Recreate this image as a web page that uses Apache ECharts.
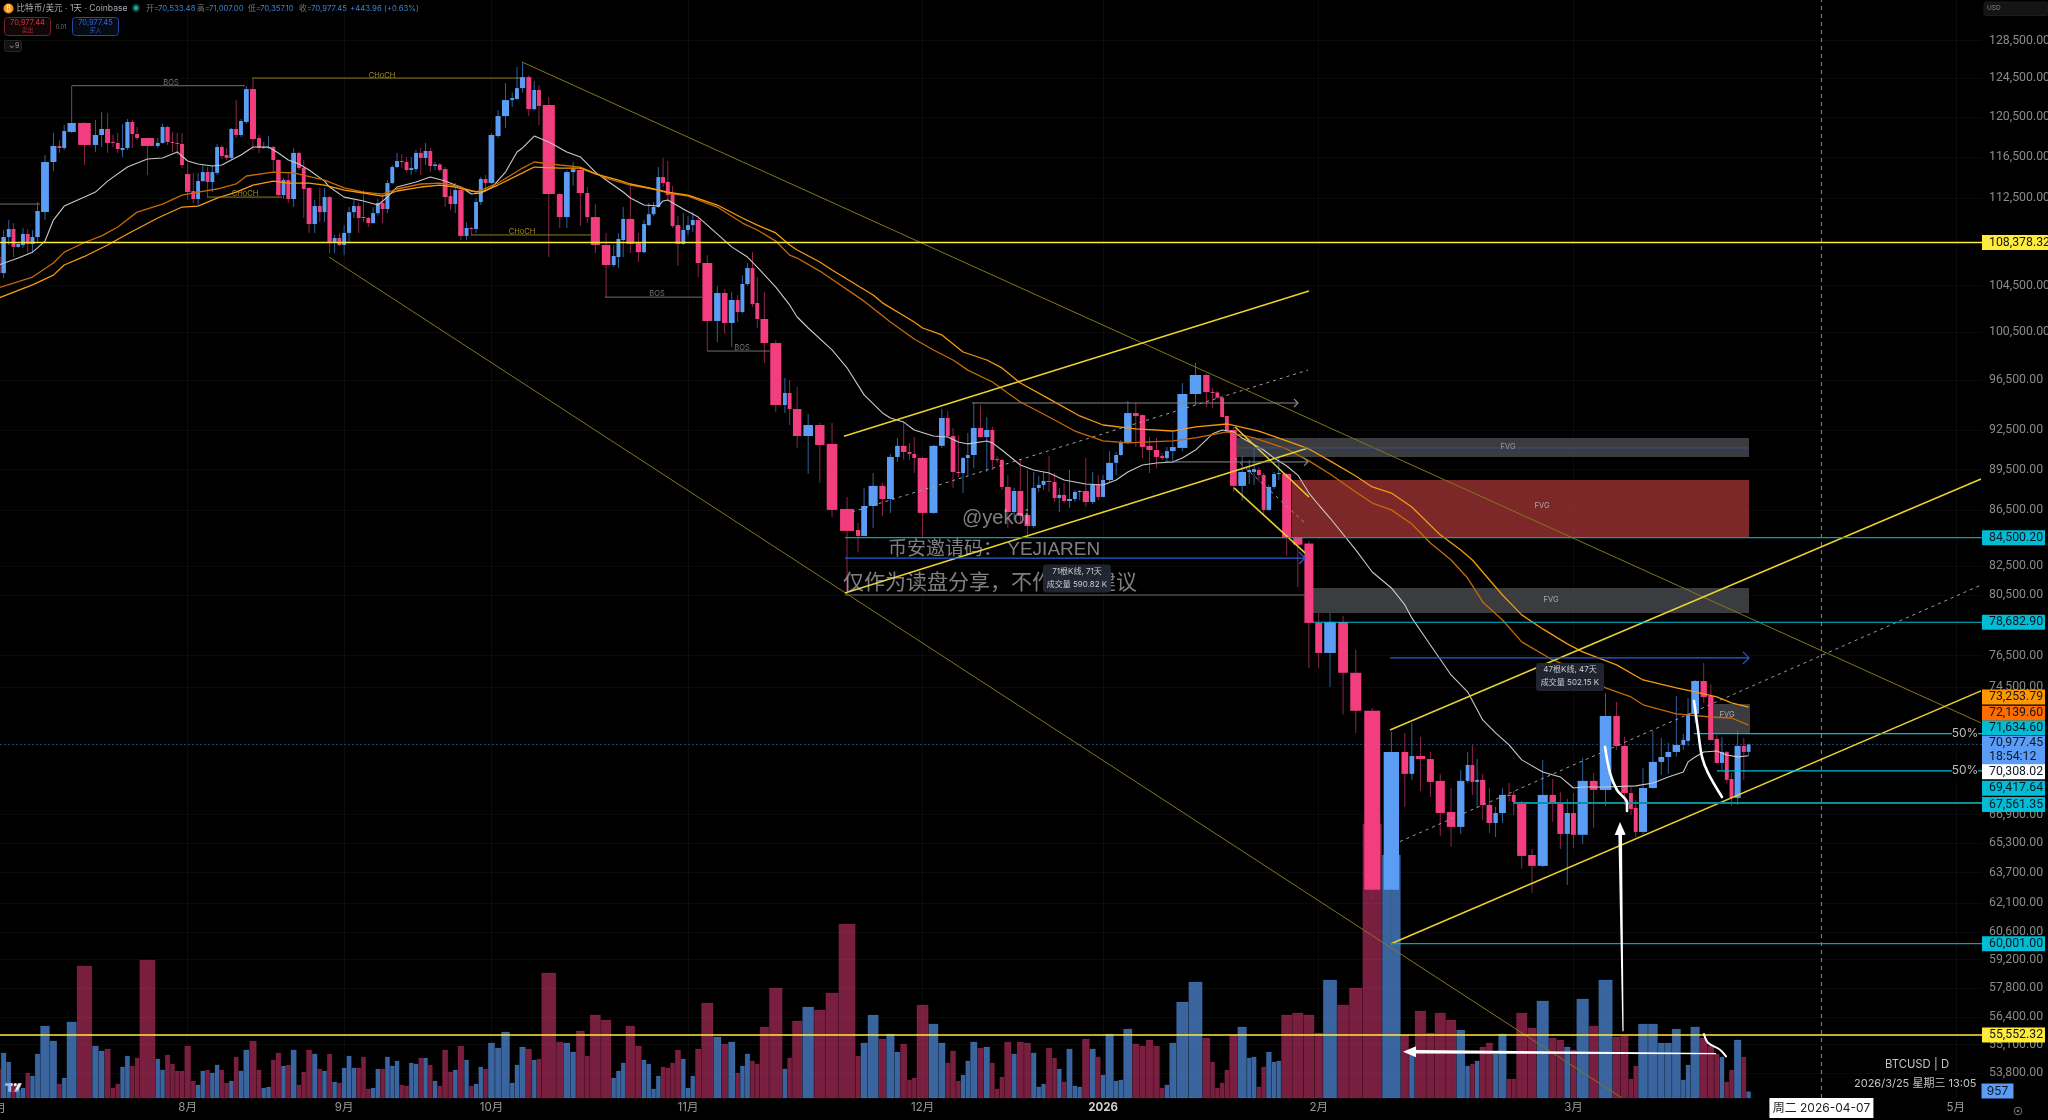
<!DOCTYPE html>
<html>
<head>
<meta charset="utf-8">
<title>BTCUSD</title>
<style>html,body{margin:0;padding:0;background:#000}#chart{width:2048px;height:1120px}</style>
<script src="https://cdn.jsdelivr.net/npm/echarts@6/dist/echarts.min.js"></script>
</head>
<body>
<div id="chart"></div>
<script>
// Daily candles, one row per session from 2025-07-01: [open, high, low, close]
const candles = [
[107060,107700,105180,105620],[105620,109530,105180,108880],[108880,110450,108150,109620],[109620,110170,107060,107980],[107980,108420,107890,108240],[108150,109710,107890,109160],[109160,109620,107410,108240],[108240,109530,107410,108880],[108880,112140,108420,111290],[111200,116680,110450,115990],[115990,118870,115110,117570],[117570,118160,116880,117370],[117370,119670,117170,119070],[118970,123700,118870,119870],[119870,119960,115700,117670],[117670,120170,116980,118660],[118660,120980,117470,119270],[119270,120880,116880,117870],[117970,118660,117470,117870],[117870,118870,116880,117270],[117170,119770,116490,117370],[117370,120270,117170,119970],[119970,120170,117370,118760],[118760,119470,118160,118360],[118360,118400,114730,117570],[117570,118360,117370,117870],[117870,119770,117800,119470],[119470,119570,117670,117970],[117970,118970,116980,117870],[117870,118870,116680,117770],[117770,118870,115400,115700],
[114820,115900,112330,113090],[113190,114930,112050,112430],[112430,114930,111860,114140],[114140,115700,114050,115010],[115010,115500,112610,114050],[114050,115700,113090,115010],[114930,117770,114730,117470],[117470,117670,116280,116580],[116680,117370,116190,116390],[116390,119370,116190,119270],[119270,122210,118360,118660],[118660,120270,118460,120070],[119970,123660,119770,123350],[123350,124500,117170,118260],[118360,118660,116880,117370],[117370,117970,117270,117470],[117370,118560,117300,117470],[117470,117570,115010,116190],[116190,116280,112610,112800],[112800,114430,112430,114240],[114240,114930,112050,112430],[112430,117370,111670,116880],[116880,116980,115210,115400],[115400,116190,110640,113380],[113480,113570,109260,110080],[110080,112330,109260,111760],[111760,113480,110260,111190],[111190,113480,110260,112610],[112610,112700,107410,108380],[108380,109070,107410,108790],[108790,109260,108060,108150],
[108150,109980,107230,109260],[109260,111670,108420,111190],[111190,112330,110640,111760],[111760,112050,109260,110640],[110740,113280,110260,110640],[110640,110740,109800,110170],[110170,111670,110100,111100],[111100,112430,110900,112050],[112050,112800,110170,111480],[111480,114240,111100,113950],[113950,115700,113850,115500],[115500,116880,115400,116090],[116090,116780,115400,115990],[115990,116490,115010,115210],[115210,116490,114730,115400],[115300,117170,115010,116880],[116880,117370,114730,116390],[116390,117870,115700,117070],[117070,117370,115010,115600],[115600,115990,115210,115750],[115750,115900,115010,115210],[115300,115500,111670,112610],[112700,113380,111380,111950],[111950,113950,111100,113280],[113280,113570,108610,108980],[108980,110260,108610,109710],[109710,109800,109070,109620],[109620,112520,109260,112140],[112140,114530,111860,114340],[114340,114730,113090,113950],
[113950,118870,113850,118660],[118560,121170,118360,120570],[120570,123980,119370,122210],[122210,122990,121500,122420],[122320,125670,122210,123450],[123450,126200,122990,124600],[124600,124800,120570,121280],[121280,124190,121170,123250],[123250,123760,119670,121600],[121700,122530,107060,112900],[112900,113000,109710,110730],[110730,115210,109710,115010],[115010,115990,113670,115300],[115210,115400,109890,113000],[113000,113570,110170,110730],[110730,111950,107410,108150],[108150,109260,103500,106340],[106340,108150,106160,107150],[107060,109260,106070,108700],[108610,111670,107060,110550],[110550,113950,107410,108240],[108330,109260,106610,107500],[107500,110450,107410,110080],[109980,112050,109900,111000],[111000,112140,110820,111670],[111670,115500,111600,114530],[114530,116380,113570,113950],[114050,116090,112330,112800],[112900,113670,109710,109890],[109980,110820,106250,108240],[108240,111100,108150,109530],
[109530,110820,109070,109980],[109980,111190,109350,110450],[110450,110640,105270,106520],[106520,107230,98900,101440],[101440,104480,99650,103860],[103860,104210,100340,101270],[101270,103950,99250,103250],[103250,103680,101350,102210],[102210,105440,102100,104650],[104650,106520,104500,106070],[106070,107500,102650,102900],[102990,105270,100840,101610],[101610,103950,97910,99570],[99570,99825,93950,94500],[94500,96680,93870,95460],[95460,96510,92920,94180],[94180,95950,91140,92060],[92060,93790,89160,92920],[92920,93080,88490,91370],[91450,93080,85990,86500],[86570,87450,80650,84980],[85050,85550,83490,84620],[84620,88120,84600,86790],[86790,89230,85200,88270],[88270,88490,86060,87300],[87300,90680,86280,90450],[90450,91910,90070,91300],[91300,93150,90220,90830],[90830,91530,90220,90680],[90680,91980,89230,90370],
[90370,90450,84500,86280],[86280,91370,86210,91300],[91300,94190,91140,93470],[93470,94020,91980,92060],[92060,92690,88120,89310],[89310,92130,88930,89230],[89230,90450,87740,90370],[90370,92300,89080,90600],[90600,94660,89600,92690],[92690,94500,91910,91980],[91980,93550,89310,92530],[92530,92770,89460,90220],[90290,90530,90000,90220],[90220,90290,87970,88190],[88190,89080,85200,86350],[86350,88120,85770,87890],[87890,90290,85550,86060],[86130,89460,84500,85330],[85330,89310,85180,88120],[88120,89000,87820,88340],[88340,89310,87970,88640],[88640,90530,87820,88560],[88560,89230,87080,87370],[87370,88120,86350,87600],[87600,88490,87000,87150],[87150,89460,86640,87300],[87300,87970,87080,87820],[87820,87970,87230,87890],[87890,90370,86720,87080],[87080,89310,86930,88340],[88340,89080,87230,87450],
[87450,89080,87420,88710],[88710,90900,88490,90000],[90000,90830,89080,90600],[90600,91750,90530,91530],[91530,94820,91450,93860],[93860,94660,91210,93620],[93700,93780,90370,91210],[91300,91980,89230,90980],[90980,91910,89600,90450],[90530,90750,90220,90370],[90370,91210,90070,90900],[90900,92450,89990,91210],[91140,96270,90900,95380],[95380,97910,94500,96920],[96920,97000,94340,95540],[95540,95870,94260,95500],[95500,95620,95010,95090],[95090,95170,93550,93550],[93630,93630,92300,92450],[92530,92770,87820,88270],[88270,90530,87150,89310],[89310,90220,88410,89460],[89310,91140,88340,89530],[89460,89640,88560,89080],[89080,89230,86130,86500],[86500,88340,86430,88190],[88190,89310,88040,89160],[89160,90370,88710,89230],[89160,89230,83200,84500],[84500,84570,81050,84000],[84080,84260,75700,78640],
[78640,79300,75700,76670],[76670,79300,74500,78700],[78700,79100,72800,75400],[75400,76870,71670,73020],[73020,73200,62260,62790],[62790,71730,60001,70530],[70530,71670,67340,69240],[69240,72270,68890,70290],[70290,71430,68250,70110],[70110,70530,67900,68770],[68830,69240,65710,66990],[67050,68420,65100,66210],[66210,69470,65820,68830],[68830,70530,68710,69760],[69760,70950,68020,68770],[68770,70120,67280,68890],[68890,69240,66600,67450],[67450,68420,65880,66430],[66430,67340,65650,66990],[66990,68420,66430,68020],[68020,68710,67620,67960],[68020,68250,66880,67620],[67620,67680,63910,64610],[64660,64990,62620,64070],[64070,70060,64010,68020],[68020,68940,66490,67510],[67510,68190,64990,65820],[65820,67790,63050,66990],
[66990,68130,65040,65770],[65770,70180,65270,68830],[68830,69290,66150,68310],[68310,74120,67400,72700],[72700,73570,70650,70890],[70890,71430,67450,68130],[68130,68480,66880,67220],[67280,67730,65650,65930],[65930,69590,65820,68420],[68420,71790,68360,69940],[69940,71370,69180,70230],[70230,71070,69240,70530],[70530,73940,70240,70950],[70950,71610,70650,71250],[71190,73820,70890,72830],[72830,74950,72270,74880],[74880,76030,73510,73880],[73940,74690,71250,71250],[71310,71550,69820,69880],[69880,71430,69470,70530],[70530,70590,68710,68890],[68940,69290,67400,67850],[67850,71850,67450,70890],[70890,71370,68890,70530],[70533.48,71007,70357.10,70977.45]
];

// Daily traded volume in BTC, same sessions as the candles
const volumes = [
4350,6750,5400,1800,1200,1500,3750,3300,6600,10800,8550,2100,3000,11400,19800,7800,7050,7350,1500,2100,4650,6300,4800,6000,20700,5850,4200,6450,5100,4050,4050,
7800,2550,1950,4050,4200,3750,4950,4200,2250,2550,6150,4050,7200,8550,4200,1500,1650,5700,6750,4800,4950,7200,1950,3900,7200,6600,4350,4050,6600,2400,2250,
4500,6300,4500,4500,6150,1350,1500,4350,4350,6150,4800,5550,1950,1800,5250,5100,6000,6000,4950,2550,1800,7200,3900,4200,7800,5700,1800,2100,4650,4350,
8250,7500,9900,2250,4950,7650,7350,5700,5850,18750,8400,8250,6900,10050,6300,12450,11700,3000,4050,5250,10800,7800,5700,5100,1350,3300,4650,4500,5250,7200,5850,
1500,3300,7350,14250,9150,8100,8400,3750,4800,6600,5550,5100,10650,16500,4350,6000,11550,13650,13200,15750,26100,6300,8250,12450,8850,9600,6900,8100,2700,3000,
13950,11100,8250,5250,7050,2550,3450,5550,8400,7500,7650,5250,1350,3150,8400,6600,8400,8250,6750,1650,2100,7500,6000,4350,2400,7350,1800,1650,8850,7350,6150,
3450,9600,2550,2700,10350,8100,7800,8700,7800,1500,1950,8250,14400,17400,9000,5400,1500,2250,4200,9450,10650,6000,6150,1650,4650,6900,5400,5550,12450,12750,12450,
9750,17700,13950,16500,41100,36450,9450,7050,13050,9750,12750,11700,10200,4800,5100,5550,7650,8250,6600,9600,2850,2850,12750,10500,14550,9000,8700,7650,
7200,14850,10800,17700,9150,9300,2850,4800,11100,11100,8250,8250,10350,2700,4950,10650,9000,7800,6600,6150,2400,4200,8700,6150,957
];

// Moving averages, sampled at the listed sessions
const maFast = [['07-01',106340],['07-05',106970],['07-08',107500],['07-09',107890],['07-10',108510],['07-11',110450],['07-13',111760],['07-15',112610],['07-16',113090],['07-18',114140],['07-22',115500],['07-25',116280],['07-27',116380],['07-30',116980],['08-01',116090],['08-03',115800],['08-06',115600],['08-08',115700],['08-10',116190],['08-12',116680],['08-14',117470],['08-17',117470],['08-19',116880],['08-21',116190],['08-23',115800],['08-25',115210],['08-28',114140],['08-29',113570],['09-01',112610],['09-05',112240],['09-08',111860],['09-10',112610],['09-12',113570],['09-16',114050],['09-19',114530],['09-22',114140],['09-24',113760],['09-25',113570],['09-27',112900],['09-29',113000],['10-01',113480],['10-03',115010],['10-05',116980],['10-06',117370],['10-08',118560],['10-10',117970],['10-12',116980],['10-14',116490],['10-16',115010],['10-17',114240],['10-20',113090],['10-21',112520],['10-23',111860],['10-26',111760],['10-27',112240],['10-28',112330],['10-31',111480],['11-03',110730],['11-04',109980],['11-07',107980],['11-10',107060],['11-12',106160],['11-14',104380],['11-16',102820],['11-17',101780],['11-18',100840],['11-20',98990],['11-21',97510],['11-23',95310],['11-25',93870],['11-26',93470],['11-28',93150],['11-30',92530],['12-02',92060],['12-04',91980],['12-06',91600],['12-08',91450],['12-11',91680],['12-12',91530],['12-14',90980],['12-17',89840],['12-19',89460],['12-22',89230],['12-25',88710],['12-29',88410],['01-01',88340],['01-03',88710],['01-05',89310],['01-07',89840],['01-09',89990],['01-12',90070],['01-13',90370],['01-14',90980],['01-16',92230],['01-18',92530],['01-20',92380],['01-21',91910],['01-25',90980],['01-27',90370],['01-29',89760],['01-30',89080],['01-31',87740],['02-01',86860],['02-02',85910],['02-04',83630],['02-05',82090],['02-06',80990],['02-07',79840],['02-08',78970],['02-10',77190],['02-12',75260],['02-14',74200],['02-17',72460],['02-19',71670],['02-21',70950],['02-23',70060],['02-25',69350],['02-27',69060],['03-01',68420],['03-02',68480],['03-04',68480],['03-08',68540],['03-10',68710],['03-12',69060],['03-14',69350],['03-15',69940],['03-16',70230],['03-17',70530],['03-19',70590],['03-21',70350],['03-23',70240],['03-25',70308.02]];
const maMid = [['07-01',103420],['07-08',104570],['07-11',105440],['07-13',106340],['07-15',107110],['07-18',108150],['07-22',109160],['07-26',110640],['07-31',111670],['08-03',111760],['08-07',112520],['08-11',113090],['08-14',113760],['08-18',114140],['08-21',113950],['08-25',113950],['08-28',113760],['09-01',113280],['09-05',113000],['09-09',112700],['09-12',113190],['09-17',113570],['09-21',113760],['09-24',113570],['09-27',113190],['09-29',113090],['10-02',113760],['10-06',114930],['10-08',115500],['10-11',115400],['10-14',115400],['10-16',114830],['10-19',114240],['10-21',113860],['10-25',113380],['10-28',113090],['11-01',112800],['11-05',111860],['11-09',110640],['11-12',109980],['11-14',109260],['11-16',108150],['11-17',107700],['11-19',106610],['11-20',105900],['11-24',103680],['11-25',103000],['11-30',101350],['12-01',100840],['12-03',100250],['12-07',98820],['12-11',98155],['12-14',97500],['12-17',96270],['12-22',94990],['12-28',93630],['01-01',92920],['01-06',92610],['01-12',92450],['01-14',92770],['01-19',93000],['01-24',92450],['01-29',91680],['01-31',91060],['02-02',90150],['02-04',89010],['02-05',88190],['02-06',87740],['02-08',86710],['02-11',84700],['02-13',83630],['02-15',82925],['02-20',80510],['02-23',79170],['02-25',78240],['02-28',77260],['03-02',76740],['03-05',75900],['03-09',74945],['03-13',74440],['03-16',74190],['03-19',73880],['03-22',73510],['03-25',73253.79]];
const maSlow = [['07-01',104310],['07-08',105270],['07-11',106520],['07-13',107500],['07-15',108380],['07-17',108980],['07-20',109800],['07-24',111190],['07-27',111950],['07-31',112800],['08-03',113090],['08-07',113380],['08-11',113860],['08-13',114630],['08-18',115010],['08-22',114930],['08-28',114240],['09-01',113480],['09-05',113090],['09-09',112900],['09-12',113380],['09-17',113860],['09-21',113950],['09-24',113710],['09-28',113090],['10-02',113950],['10-06',115400],['10-08',115990],['10-11',115700],['10-14',115500],['10-17',114430],['10-21',113760],['10-25',113380],['10-28',113000],['11-01',112700],['11-05',111670],['11-09',110170],['11-12',109530],['11-14',108510],['11-16',107230],['11-17',106970],['11-19',105800],['11-23',103150],['11-26',101350],['11-30',99910],['12-02',98990],['12-05',98155],['12-08',97320],['12-12',96350],['12-17',94740],['12-22',93550],['12-27',92450],['01-01',91680],['01-05',91530],['01-12',91680],['01-14',91910],['01-19',92380],['01-23',91910],['01-29',91060],['01-31',90150],['02-02',89160],['02-04',87820],['02-05',87000],['02-06',86500],['02-08',85480],['02-10',84120],['02-12',82925],['02-14',81670],['02-17',80040],['02-20',78834],['02-23',77390],['02-26',76220],['03-02',75450],['03-04',74440],['03-07',73880],['03-09',73390],['03-13',72830],['03-18',72640],['03-22',72580],['03-25',72139.60]];

// Axis scale labels
const priceTicks = [128500,124500,120500,116500,112500,104500,100500,96500,92500,89500,86500,82500,80500,76500,74500,66900,65300,63700,62100,60600,59200,57800,56400,55100,53800];
const monthTicks = [['8月','08-01'],['9月','09-01'],['10月','10-01'],['11月','11-01'],['12月','12-01'],['2026','01-01'],['2月','02-01'],['3月','03-01'],['5月','05-01']];

// Price tags stacked on the right scale: value, fill, nudge to avoid overlap
const tagValues = [108378.32,84500.20,78682.90,73253.79,72139.60,71634.60,70977.45,70308.02,69417.64,67561.35,60001.00,55552.32];
const tagFills = ['#ffeb3b','#00bcd4','#00bcd4','#ff9800','#ff6d00','#00bcd4','#5b9cf6','#ffffff','#00bcd4','#00bcd4','#00bcd4','#ffeb3b'];
const tagNudge = [0,0,0,-10,-12,-5.5,0,16,17.5,1.5,0,0];

// Trend and level drawings: x in session-axis units, y in price
const trendThin = [[[522,126200],[1981,72280]],[[329,107060],[1622,52680]]];
const trendBright = [[[844,92050],[1309,104040]],[[845,80650],[1308,91140]],[[1235,92770],[1309,87450]],[[1234,88120],[1305,83420]],[[1390,71850],[1981,88785]],[[1391,60001],[1981,74255]]];
const trendDashed = [[[852,86350],[1308,97330]],[[1235,90370],[1307,85400]],[[1400,65400],[1981,81190]]];
const levelYellow = [108378.32,55552.32];
const levelCyan = [[845,84500.20,'#00a5b5',1.2],[1313,78682.90,'#00bcd4',1.2],[1694,71634.60,'#00bcd4',1.2],[1717,69417.64,'#00bcd4',1.2],[1513,67561.35,'#078f9c',2],[1391,60001,'#00a5b5',1.2]];
const structureGray = [[0,40,111950],[72,245,123700],[605,702,103500],[707,770,98900]];
const structureGold = [[252,520,124500],[207,282,112610],[471,591,109070]];
const rangeArrowsGray = [[972,1298,94660],[1165,1308,90070]];
const rangeArrowsBlue = [[845,1305,83060],[1390,1749,76350]];
const measureGray = [845,1305,80510];
const fvgBoxes = [[1237,1749,91910,90450,'rgba(95,97,104,0.62)'],[1292,1749,88711,84500,'rgba(190,60,60,0.66)'],[1313,1749,80990,79300,'rgba(95,97,104,0.62)'],[1714,1750,73440,71670,'rgba(95,97,104,0.62)']];
const chartNotes = [['FVG',1508,91260,'#999'],['FVG',1542,86840,'#aaa'],['FVG',1551,80180,'#aaa'],['FVG',1727,72780,'#aaa'],['BOS',171,124000,'#777'],['BOS',657,103780,'#777'],['BOS',742,99150,'#777'],['CHoCH',382,124780,'#9c8c20'],['CHoCH',245,112950,'#9c8c20'],['CHoCH',522,109350,'#9c8c20']];
const fiftyMarks = [71634.60,69417.64];
const handCurves = [[[1605,70830],[1610,69300],[1617,68300],[1627,67570],[1627,67110]],[[1694,73630],[1698,71840],[1702,70240],[1708,69300],[1722,67900]],[[1704,55600],[1708,55190],[1720,54870],[1726,54560]]];
const whiteArrows = [[1620,66490,1623,55730],[1403,54780,1716,54690]];
const measureBoxes = [[1077,81640,'71根K线, 71天','成交量 590.82 K'],[1570,75130,'47根K线, 47天','成交量 502.15 K']];
const watermarks = [['@yekoi',962,85910,20],['币安邀请码： YEJIAREN',888,83630,19],['仅作为读盘分享，不作投资建议',843,81330,21]];

// Session widths widen with volume; the future stretch uses a fixed calendar step
const PANE_W = 1982, PANE_BOTTOM = 1098, FIRST_EDGE = -3.9, LAST_EDGE = 1751, FUTURE_STEP = 5.6;
function slotWeight(v) {
  const h = v / 150;
  if (h <= 40) return 4.75;
  if (h <= 80) return 4.75 + (h - 40) * 0.15;
  if (h <= 140) return 10.75 + (h - 80) * 0.09;
  return 16.15 + (h - 140) * 0.025;
}
const weights = volumes.map(slotWeight);
const weightSum = weights.reduce((a, b) => a + b, 0);
const widthScale = (LAST_EDGE - FIRST_EDGE) / weightSum;
const slotW = weights.map(w => w * widthScale);
const slotX = [];
slotW.reduce((edge, w) => { slotX.push(edge + w / 2); return edge + w; }, FIRST_EDGE);

function sessionIndex(md) {
  const [m, d] = md.split('-').map(Number);
  const year = m >= 7 ? 2025 : 2026;
  return Math.round((Date.UTC(year, m - 1, d) - Date.UTC(2025, 6, 1)) / 86400000);
}
function xOf(md) {
  const i = sessionIndex(md);
  return i < slotX.length ? slotX[i] : slotX[slotX.length - 1] + (i - slotX.length + 1) * FUTURE_STEP;
}
const monthLabelAt = new Map(monthTicks.map(([t, d]) => [xOf(d), t]));
const money = v => v.toLocaleString('en-US', { minimumFractionDigits: 2, maximumFractionDigits: 2 });
const UP = '#5b9df5', DOWN = '#f23e7f', UP_WICK = '#2f6198', DOWN_WICK = '#8c2450';
const UI_FONT = 'Inter, "Noto Sans CJK SC", sans-serif';

const lineSeries = (data, color, width, extra) => Object.assign({
  type: 'line', data, showSymbol: false, symbol: 'none', silent: true, animation: false,
  lineStyle: { color, width }, z: 5
}, extra || {});

const series = [];

// Fair value gap boxes lie under the candles
series.push({
  type: 'custom', z: 2, silent: true, data: fvgBoxes.map(b => b.slice(0, 4)),
  renderItem(p, api) {
    const a = api.coord([api.value(0), api.value(2)]), b = api.coord([api.value(1), api.value(3)]);
    return { type: 'rect', shape: { x: a[0], y: a[1], width: b[0] - a[0], height: b[1] - a[1] }, style: { fill: fvgBoxes[p.dataIndex][4] } };
  }
});

// Volume columns
series.push({
  type: 'custom', yAxisIndex: 1, z: 1, silent: true,
  data: volumes.map((v, i) => [slotX[i], v, slotW[i]]),
  renderItem(p, api) {
    const x = api.value(0), w = api.value(2), i = p.dataIndex;
    const up = candles[i][3] >= candles[i][0];
    const top = api.coord([x, api.value(1)]), l = api.coord([x - w / 2 + 0.3, 0]), r = api.coord([x + w / 2 - 0.3, 0]);
    return { type: 'rect', shape: { x: l[0], y: top[1], width: r[0] - l[0], height: l[1] - top[1] },
      style: { fill: up ? 'rgba(91,157,245,0.64)' : 'rgba(240,62,125,0.5)', stroke: up ? 'rgba(91,157,245,0.25)' : 'rgba(240,62,125,0.2)', lineWidth: 0.6 } };
  }
});

// Candles
series.push({
  type: 'custom', z: 3, silent: true,
  data: candles.map((c, i) => [slotX[i], c[0], c[1], c[2], c[3], slotW[i]]),
  encode: { x: 0, y: [1, 2, 3, 4] },
  renderItem(p, api) {
    const x = api.value(0), o = api.value(1), hi = api.value(2), lo = api.value(3), c = api.value(4), w = api.value(5);
    const up = c >= o;
    const yo = api.coord([x, o])[1], yc = api.coord([x, c])[1], yh = api.coord([x, hi])[1], yl = api.coord([x, lo])[1];
    const cx = api.coord([x, o])[0], half = w * 0.41;
    return { type: 'group', children: [
      { type: 'line', shape: { x1: cx, y1: yh, x2: cx, y2: yl }, style: { stroke: up ? UP_WICK : DOWN_WICK, lineWidth: 1 } },
      { type: 'rect', shape: { x: cx - half, y: Math.min(yo, yc), width: half * 2, height: Math.max(1, Math.abs(yo - yc)) }, style: { fill: up ? UP : DOWN } }
    ] };
  }
});

// Moving averages
series.push(lineSeries(maFast.map(([d, v]) => [xOf(d), v]), '#c9c9c9', 1.1));
series.push(lineSeries(maSlow.map(([d, v]) => [xOf(d), v]), '#c76a05', 1.3));
series.push(lineSeries(maMid.map(([d, v]) => [xOf(d), v]), '#f79a0c', 1.3));

// Trend lines and levels
trendThin.forEach(l => series.push(lineSeries(l, '#85761a', 1)));
trendBright.forEach(l => series.push(lineSeries(l, '#e9d22f', 1.5)));
trendDashed.forEach(l => series.push(lineSeries(l, '#9a9a9a', 1, { lineStyle: { color: '#a0a0a0', width: 1, type: [3, 4] } })));
levelYellow.forEach(v => series.push(lineSeries([[0, v], [PANE_W, v]], '#ffeb3b', 1.5)));
levelCyan.forEach(([x, v, c, w]) => series.push(lineSeries([[x, v], [PANE_W, v]], c, w)));
structureGray.forEach(([a, b, v]) => series.push(lineSeries([[a, v], [b, v]], '#6f6f6f', 1)));
structureGold.forEach(([a, b, v]) => series.push(lineSeries([[a, v], [b, v]], '#8d7e1c', 1)));
rangeArrowsGray.forEach(([a, b, v]) => series.push(lineSeries([[a, v], [b, v]], '#8a8a8a', 1)));
rangeArrowsBlue.forEach(([a, b, v]) => series.push(lineSeries([[a, v], [b, v]], '#2b5fd9', 1.3)));
series.push(lineSeries([[measureGray[0], measureGray[2]], [measureGray[1], measureGray[2]]], '#6b6b6b', 1));
fvgBoxes.slice(0, 1).forEach(b => series.push(lineSeries([[b[0], 91140], [b[1], 91140]], '#3d4f86', 1)));

// Last price and cursor guides
series.push(lineSeries([[0, 70977.45], [PANE_W, 70977.45]], '#1f3c68', 1, { lineStyle: { color: '#24436f', width: 1, type: [2, 2] }, z: 2 }));
series.push(lineSeries([[xOf('04-07'), 52680], [xOf('04-07'), 132970]], '#8a8a8a', 1, { lineStyle: { color: '#8a8a8a', width: 1, type: [4, 4] }, z: 2 }));

// Hand-drawn curves
handCurves.forEach((c, i) => series.push(lineSeries(c, '#ffffff', i === 2 ? 2 : 2.6, { smooth: 0.35, z: 7, lineStyle: { color: '#fff', width: i === 2 ? 2 : 2.6, cap: 'round' } })));

// Chevron tips for the range arrows
const chevrons = rangeArrowsGray.map(a => [a[1], a[2], '#8a8a8a']).concat(rangeArrowsBlue.map(a => [a[1], a[2], '#2b5fd9']));
series.push({
  type: 'custom', z: 6, silent: true, data: chevrons.map(c => [c[0], c[1]]),
  renderItem(p, api) {
    const q = api.coord([api.value(0), api.value(1)]);
    const s = chevrons[p.dataIndex][2] === '#2b5fd9' ? 6 : 4;
    return { type: 'polyline', shape: { points: [[q[0] - s, q[1] - s], [q[0], q[1]], [q[0] - s, q[1] + s]] }, style: { stroke: chevrons[p.dataIndex][2], fill: 'none', lineWidth: 1.2 } };
  }
});

// Tapered white arrows
series.push({
  type: 'custom', z: 7, silent: true, data: whiteArrows,
  renderItem(p, api) {
    const tip = api.coord([api.value(0), api.value(1)]), tail = api.coord([api.value(2), api.value(3)]);
    const dx = tail[0] - tip[0], dy = tail[1] - tip[1], len = Math.hypot(dx, dy), ux = dx / len, uy = dy / len, nx = -uy, ny = ux;
    const headLen = 13, headW = 5.5, shaft = 1.8, end = 0.6;
    const bx = tip[0] + ux * headLen, by = tip[1] + uy * headLen;
    return { type: 'polygon', shape: { points: [
      tip, [bx + nx * headW, by + ny * headW], [bx + nx * shaft, by + ny * shaft], [tail[0] + nx * end, tail[1] + ny * end],
      [tail[0] - nx * end, tail[1] - ny * end], [bx - nx * shaft, by - ny * shaft], [bx - nx * headW, by - ny * headW]
    ] }, style: { fill: '#fff' } };
  }
});

// Small notes next to boxes and structure lines
series.push({
  type: 'custom', z: 6, silent: true, data: chartNotes.map(n => [n[1], n[2]]),
  renderItem(p, api) {
    const q = api.coord([api.value(0), api.value(1)]), n = chartNotes[p.dataIndex];
    return { type: 'text', style: { x: q[0], y: q[1], text: n[0], fill: n[3], font: '7.5px ' + UI_FONT, textAlign: 'center', textVerticalAlign: 'middle' } };
  }
});

// Watermark text
series.push({
  type: 'custom', z: 8, silent: true, data: watermarks.map(n => [n[1], n[2]]),
  renderItem(p, api) {
    const q = api.coord([api.value(0), api.value(1)]), n = watermarks[p.dataIndex];
    return { type: 'text', style: { x: q[0], y: q[1], text: n[0], fill: 'rgba(205,205,205,0.62)', font: n[3] + 'px "Liberation Sans","Noto Sans CJK SC",sans-serif', textAlign: 'left', textVerticalAlign: 'middle' } };
  }
});

// Range measurement captions
series.push({
  type: 'custom', z: 9, silent: true, data: measureBoxes.map(n => [n[0], n[1]]),
  renderItem(p, api) {
    const q = api.coord([api.value(0), api.value(1)]), n = measureBoxes[p.dataIndex];
    return { type: 'group', children: [
      { type: 'rect', shape: { x: q[0] - 34, y: q[1] - 14, width: 68, height: 28, r: 3 }, style: { fill: 'rgba(33,37,48,0.97)' } },
      { type: 'text', style: { x: q[0], y: q[1] - 7, text: n[2], fill: '#c8ccd4', font: '8px ' + UI_FONT, textAlign: 'center', textVerticalAlign: 'middle' } },
      { type: 'text', style: { x: q[0], y: q[1] + 6, text: n[3], fill: '#c8ccd4', font: '8px ' + UI_FONT, textAlign: 'center', textVerticalAlign: 'middle' } }
    ] };
  }
});

// 50% markers near the scale
series.push({
  type: 'custom', z: 6, silent: true, data: fiftyMarks.map(v => [1965, v]),
  renderItem(p, api) {
    const q = api.coord([api.value(0), api.value(1)]);
    return { type: 'group', children: [
      { type: 'rect', shape: { x: q[0] - 13, y: q[1] - 7, width: 26, height: 14 }, style: { fill: '#000' } },
      { type: 'text', style: { x: q[0], y: q[1], text: '50%', fill: '#bdbdbd', font: '12px ' + UI_FONT, textAlign: 'center', textVerticalAlign: 'middle' } }
    ] };
  }
});

// Price tags on the scale
series.push({
  type: 'custom', z: 20, silent: true, clip: false, data: tagValues.map(v => [PANE_W, v]),
  renderItem(p, api) {
    const q = api.coord([api.value(0), api.value(1)]), i = p.dataIndex;
    const y = q[1] + tagNudge[i], v = tagValues[i], wide = v >= 100000;
    const live = v === 70977.45;
    const tagH = live ? 29 : 15, top = live ? 736 : y - 7.5;
    const kids = [
      { type: 'rect', shape: { x: PANE_W, y: top, width: wide ? 66 : 63, height: tagH }, style: { fill: tagFills[i] } },
      { type: 'text', style: { x: 1989, y: live ? 743 : y, text: money(v), fill: '#0f1720', font: '12.3px ' + UI_FONT.replace('Inter', 'Roboto'), textAlign: 'left', textVerticalAlign: 'middle' } }
    ];
    if (live) kids.push({ type: 'text', style: { x: 1989, y: 757, text: '18:54:12', fill: '#0f1720', font: '12.3px Roboto', textAlign: 'left', textVerticalAlign: 'middle' } });
    return { type: 'group', children: kids };
  }
});

const T = (x, y, text, fill, size, extra) => Object.assign({ type: 'text', z: 100, silent: true, style: Object.assign({ x, y, text, fill, font: size + 'px ' + UI_FONT, textVerticalAlign: 'middle' }, extra || {}) });
const R = (x, y, w, h, fill, stroke, r) => ({ type: 'rect', z: 100, silent: true, shape: { x, y, width: w, height: h, r: r || 0 }, style: { fill: fill || 'none', stroke: stroke || null, lineWidth: 1 } });
const C = (cx, cy, r, fill, stroke) => ({ type: 'circle', z: 100, silent: true, shape: { cx, cy, r }, style: { fill: fill || 'none', stroke: stroke || null, lineWidth: 1 } });

const chromeElements = [
  C(8.5, 8.5, 5, '#f7931a'), T(8.5, 8.5, '₿', '#fff', 7, { textAlign: 'center' }),
  T(16.5, 8.5, '比特币/美元 · 1天 · Coinbase', '#a8abb3', 8.6),
  C(136, 8, 4.2, '#0a3b33'), C(136, 8, 2.2, '#22ab94'),
  T(146, 8.5, '开=', '#777', 7.8), T(158, 8.5, '70,533.48', '#3f7fcc', 7.8),
  T(197, 8.5, '高=', '#777', 7.8), T(209, 8.5, '71,007.00', '#3f7fcc', 7.8),
  T(248, 8.5, '低=', '#777', 7.8), T(260, 8.5, '70,357.10', '#3f7fcc', 7.8),
  T(299, 8.5, '收=', '#777', 7.8), T(311, 8.5, '70,977.45', '#3f7fcc', 7.8),
  T(350, 8.5, '+443.96 (+0.63%)', '#3f7fcc', 7.8),
  R(4.5, 17.5, 46, 18, '#120708', '#7a1f2a', 3),
  T(27.5, 22.5, '70,977.44', '#d8323d', 7.5, { textAlign: 'center' }), T(27.5, 30, '卖出', '#b02a33', 5.8, { textAlign: 'center' }),
  T(61, 27, '0.01', '#777', 5.5, { textAlign: 'center' }),
  R(72.5, 17.5, 46, 18, '#070b16', '#1f4aa8', 3),
  T(95.5, 22.5, '70,977.45', '#2e66d8', 7.5, { textAlign: 'center' }), T(95.5, 30, '买入', '#2a5bc0', 5.8, { textAlign: 'center' }),
  R(4.5, 40.5, 17, 11, '#111', '#262626', 2), T(9, 46, '⌄', '#aaa', 7), T(15, 46, '9', '#999', 7),

  R(1984, 2, 64, 13.5, '#141414', '#1d1d1d', 2), T(1987, 8.5, 'USD', '#8a8a8a', 6.5),

  // July's label starts left of the pane and is cut by the page edge
  T(6, 1109, '7月', '#9a9a9a', 11.5, { textAlign: 'right' }),

  T(1885, 1065, 'BTCUSD | D', '#c4c4c4', 11.3),
  T(1854, 1084, '2026/3/25 星期三 13:05', '#c4c4c4', 11),
  R(1981.5, 1083.5, 32, 15, '#5b9cf6'), T(1997.5, 1091.5, '957', '#0f1720', 12, { textAlign: 'center' }),
  R(xOf('04-07') - 52, 1098, 104, 20, '#ffffff'),
  T(xOf('04-07'), 1108.5, '周二 2026-04-07', '#222', 12, { textAlign: 'center' }),
  C(2018, 1111, 3.8, 'none', '#777'), C(2018, 1111, 1.3, '#777'),

  // Broadcaster mark at the lower-left of the pane
  { type: 'group', z: 100, silent: true, children: [
    { type: 'polygon', shape: { points: [[5, 1083], [13, 1083], [13, 1086], [11.5, 1086], [11.5, 1092], [8, 1092], [8, 1086], [5, 1086]] }, style: { fill: '#eee', stroke: '#333', lineWidth: 0.6 } },
    { type: 'circle', shape: { cx: 15.3, cy: 1084.8, r: 1.7 }, style: { fill: '#eee' } },
    { type: 'polygon', shape: { points: [[18, 1083], [22, 1083], [18, 1092], [13.6, 1092]] }, style: { fill: '#eee', stroke: '#333', lineWidth: 0.6 } }
  ] }
];

const chart = echarts.init(document.getElementById('chart'), null, { renderer: 'canvas', width: 2048, height: 1120 });
chart.setOption({
  animation: false,
  backgroundColor: '#000',
  grid: { left: 0, top: 0, width: PANE_W, height: PANE_BOTTOM, containLabel: false, outerBoundsMode: 'none' },
  tooltip: { show: false },
  xAxis: {
    type: 'value', min: 0, max: PANE_W, scale: true,
    axisLine: { show: false },
    axisTick: { show: false, customValues: monthTicks.map(([, d]) => xOf(d)) },
    splitLine: { show: true, lineStyle: { color: 'rgba(255,255,255,0.04)', width: 1 } },
    axisLabel: {
      customValues: monthTicks.map(([, d]) => xOf(d)), margin: 4, color: '#9a9a9a', fontSize: 11.5, fontFamily: UI_FONT, hideOverlap: false,
      formatter: v => { const t = monthLabelAt.get(v) || ''; return t === '2026' ? '{y|2026}' : t; },
      rich: { y: { color: '#cfcfcf', fontWeight: 'bold', fontSize: 11.5, fontFamily: UI_FONT } }
    }
  },
  yAxis: [{
    type: 'log', position: 'right', min: 52680, max: 132970, logBase: 10,
    axisLine: { show: false },
    axisTick: { show: false, customValues: priceTicks },
    splitLine: { show: true, lineStyle: { color: 'rgba(255,255,255,0.04)', width: 1 } },
    minorTick: { show: false }, minorSplitLine: { show: false },
    axisLabel: { customValues: priceTicks, margin: 7, color: '#8a8a8a', fontSize: 12.3, fontFamily: 'Roboto', formatter: v => money(Math.round(v)), hideOverlap: false }
  }, {
    type: 'value', min: 0, max: 164700, show: false, position: 'left', splitLine: { show: false }
  }],
  series,
  graphic: { elements: chromeElements }
});
</script>
</body>
</html>
